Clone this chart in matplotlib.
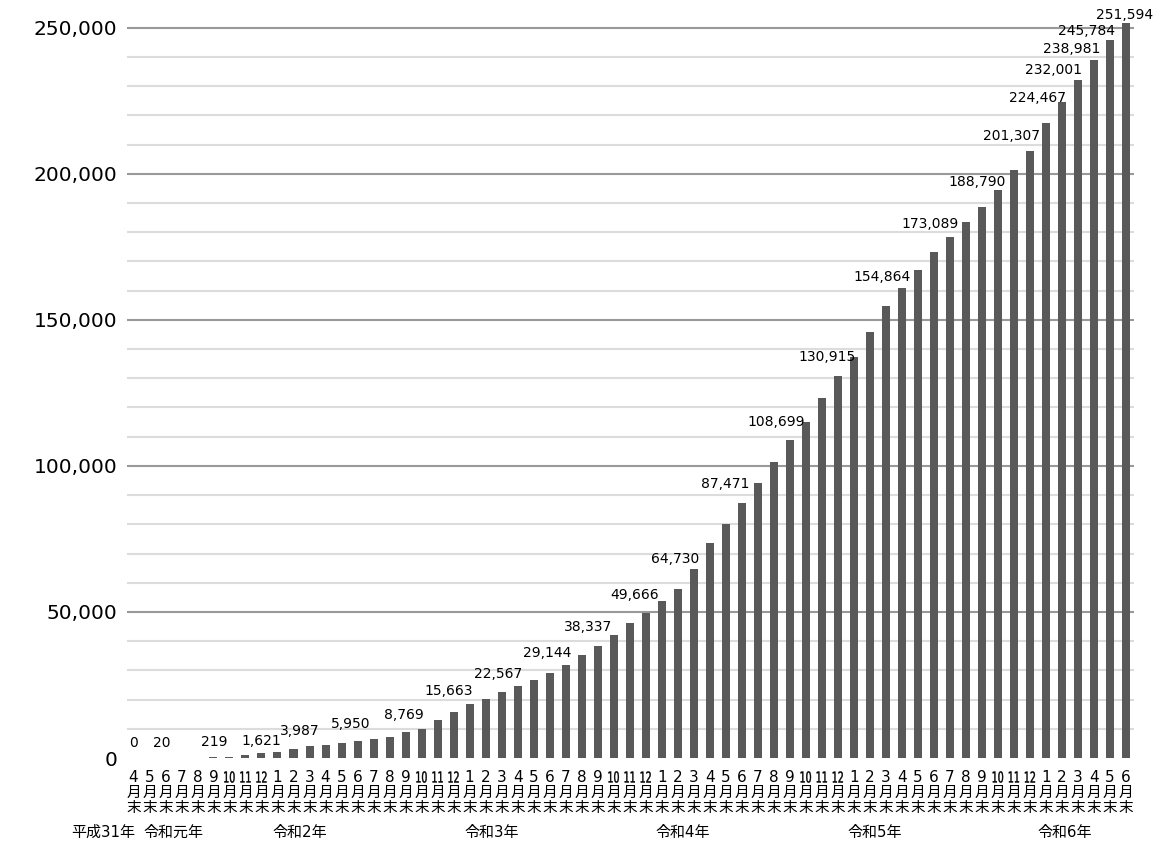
import matplotlib
matplotlib.use('Agg')
import matplotlib.pyplot as plt
from matplotlib import transforms
from matplotlib.font_manager import FontProperties
from matplotlib.patches import PathPatch
from matplotlib.textpath import TextPath
from matplotlib.ticker import FuncFormatter

plt.rcParams['font.family'] = ['DejaVu Sans', 'Noto Sans CJK JP']

# month-end totals, 平成31年4月末 .. 令和6年6月末
months = [4, 5, 6, 7, 8, 9, 10, 11, 12] + list(range(1, 13)) * 4 + [1, 2, 3, 4, 5, 6]
totals = [
    0, 5, 20, 60, 130, 219, 420, 900, 1621,
    2200, 3200, 3987, 4450, 5150, 5950, 6550, 7350, 8769, 10050, 12900, 15663,
    18400, 20250, 22567, 24650, 26600, 29144, 31900, 35200, 38337, 42050, 46050, 49666,
    53600, 57700, 64730, 73500, 80100, 87471, 94000, 101400, 108699, 115100, 123100, 130915,
    137400, 145700, 154864, 160800, 167100, 173089, 178500, 183600, 188790, 194300, 201307, 207900,
    217500, 224467, 232001, 238981, 245784, 251594,
]

# bars that carry a value label
label_idx = [0, 2, 5, 8, 11, 14, 17, 20, 23, 26, 29, 32, 35, 38, 41, 44,
             47, 50, 53, 55, 58, 59, 60, 61, 62]
# label nudges in pixels (dx, up)
label_nudge = [(0, 15), (-4, 15), (1, 15), (0, 12), (-10, 15), (-7, 17), (-2, 17),
               (-5, 21), (-3, 18), (-2, 20), (-10, 19), (-11, 18), (-19, 10),
               (-17, 19), (-14, 18), (-11, 19), (-4, 29), (-4, 28), (-5, 25),
               (-2, 34), (-24, 4), (-24, 10), (-22, 11), (-23, 9), (-1, 8)]

years = ['平成31年', '令和元年', '令和2年', '令和3年', '令和4年', '令和5年', '令和6年']
year_x = [-1.9, 2.5, 10.4, 22.4, 34.3, 46.3, 58.2]

DPI = 100
PX = 72 / DPI  # points per pixel

fig = plt.figure(figsize=(11.68, 8.66), dpi=DPI)
ax = fig.add_axes([127 / 1168, (866 - 758) / 866, (1134 - 127) / 1168, (758 - 19) / 866])

x = list(range(len(totals)))
ax.bar(x, totals, width=0.5, color='#595959', zorder=3)

ax.set_xlim(-0.4, 62.5)
ax.set_ylim(0, 253000)

# gridlines: light every 10,000, darker every 50,000
for v in range(10000, 250001, 10000):
    if v % 50000 == 0:
        ax.axhline(v, color='#999999', lw=1.5, zorder=1)
    else:
        ax.axhline(v, color='#dcdcdc', lw=1.5, zorder=1)

ax.set_yticks(range(0, 250001, 50000))
ax.yaxis.set_major_formatter(FuncFormatter(lambda v, p: f'{int(v):,}'))
ax.tick_params(axis='y', length=0, pad=7, labelsize=14.5)
ax.set_xticks([])
for s in ax.spines.values():
    s.set_visible(False)

# value labels
for (i, (dx, dy)) in zip(label_idx, label_nudge):
    ax.annotate(f'{totals[i]:,}', (i, totals[i]), xytext=(dx * PX, dy * PX),
                textcoords='offset points', ha='center', va='center', fontsize=10)

# month labels: number / 月 / 末 stacked vertically
bottom = transforms.blended_transform_factory(ax.transData, ax.transAxes)
num_font = FontProperties(family='DejaVu Sans')
for i, m in enumerate(months):
    if m >= 10:
        # two-digit months squeezed horizontally to fit one bar slot
        tp = TextPath((0, 0), str(m), size=11 / PX, prop=num_font)
        bb = tp.get_extents()
        tr = (transforms.Affine2D()
              .translate(-(bb.x0 + bb.x1) / 2, -(bb.y0 + bb.y1) / 2)
              .scale(0.62, 0.98)
              .translate(0, -19)
              + transforms.ScaledTranslation(i, 0, bottom))
        fig.patches.append(PathPatch(tp, transform=tr, facecolor='black',
                                     edgecolor='black', lw=0.3))
    else:
        ax.annotate(str(m), (i, 0), xycoords=('data', 'axes fraction'),
                    xytext=(0, -19 * PX), textcoords='offset points',
                    ha='center', va='center', fontsize=11)
    ax.annotate('月', (i, 0), xycoords=('data', 'axes fraction'),
                xytext=(0, -35 * PX), textcoords='offset points',
                ha='center', va='center', fontsize=10.5, family='Noto Sans CJK JP')
    ax.annotate('末', (i, 0), xycoords=('data', 'axes fraction'),
                xytext=(0, -50 * PX), textcoords='offset points',
                ha='center', va='center', fontsize=10.5, family='Noto Sans CJK JP')

for name, xp in zip(years, year_x):
    ax.annotate(name, (xp, 0), xycoords=('data', 'axes fraction'),
                xytext=(0, -74 * PX), textcoords='offset points',
                ha='center', va='center', fontsize=10.8)

fig.savefig('out.png', dpi=DPI)
